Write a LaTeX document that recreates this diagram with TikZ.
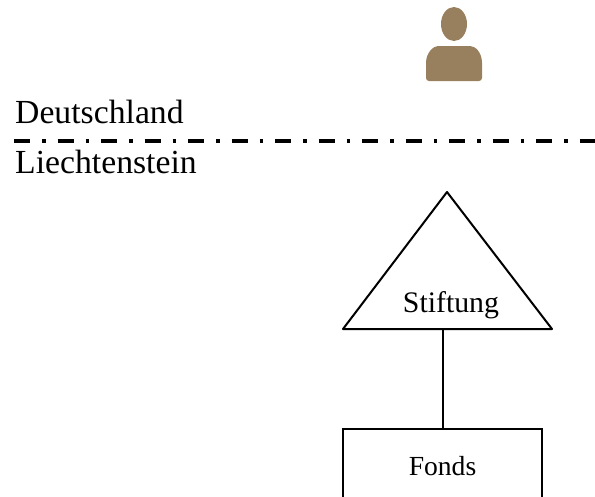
\documentclass[tikz,border=0pt]{standalone}
\usepackage{fontspec}
\setmainfont{Liberation Serif}
\definecolor{personbrown}{HTML}{98805F}

\begin{document}
\begin{tikzpicture}[x=1pt,y=-1pt]
    % Define shapes
    \tikzstyle{country}=[anchor=base west, inner sep=0pt, font=\fontsize{33.7}{33.7}\selectfont]
    \tikzstyle{entity}=[draw, line width=2pt, rectangle, minimum width=199pt, minimum height=74pt, font=\fontsize{27.6}{27.6}\selectfont]
    \tikzstyle{connector}=[line width=2pt]
    \useasboundingbox (0,0) rectangle (595,496);

    % Place person
    \fill[personbrown] (454,24) ellipse (13 and 17);
    \fill[personbrown, rounded corners=3pt] (426,81) -- (426,66) .. controls (426,52) and (434,46) .. (441,46) -- (467,46) .. controls (475,46) and (482,52) .. (482,66) -- (482,81) -- cycle;

    % Place border
    \node[country] (germany) at (15,123) {Deutschland};
    \node[country] (liechtenstein) at (15,173.5) {Liechtenstein};
    \coordinate (border_w) at (14,141);
    \coordinate (border_e) at (595,141);
    \draw[line width=4pt, dash pattern=on 16pt off 12pt on 3.5pt off 12pt] (border_w) -- (border_e);

    % Place foundation
    \coordinate (top) at (447,192);
    \coordinate (left) at (343,329);
    \coordinate (right) at (552,329);
    \draw[connector, line join=round] (top) -- (left) -- (right) -- cycle;
    \node[font=\fontsize{29.8}{29.8}\selectfont] (stiftung) at (451,305) {Stiftung};

    % Place fund
    \node[entity] (fonds) at (442.5,466) {Fonds};

    % Connect foundation to fund
    \draw[connector] (fonds.north) -- (fonds.north |- left);
\end{tikzpicture}
\end{document}
